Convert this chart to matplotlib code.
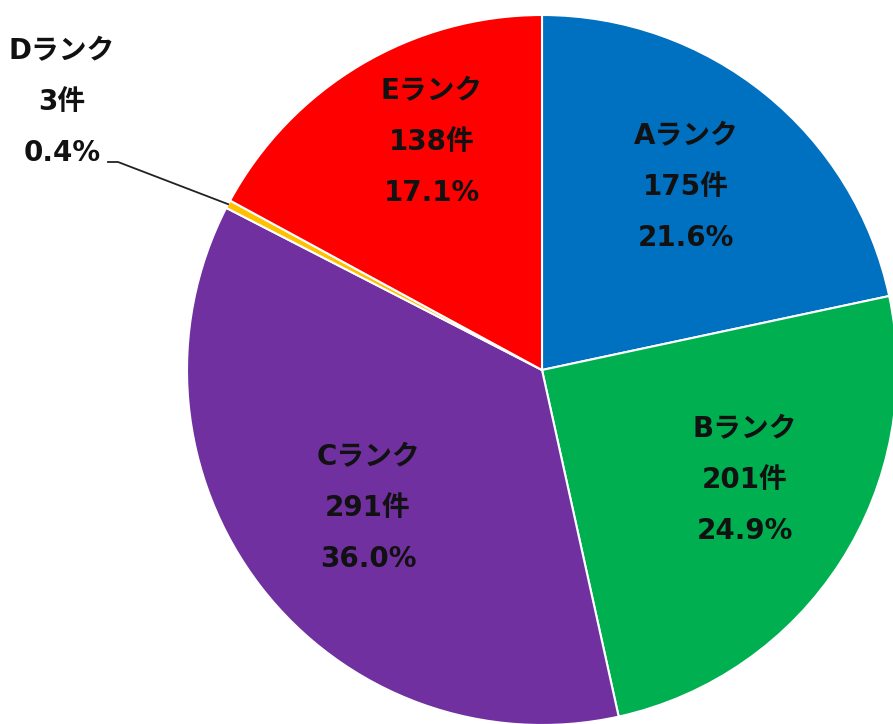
import matplotlib
matplotlib.use("Agg")
import numpy as np
import matplotlib.pyplot as plt

# Verdana-like latin (DejaVu) with CJK fallback, close to Meiryo
plt.rcParams['font.family'] = ['DejaVu Sans', 'Noto Sans CJK JP']

ranks = ['A', 'B', 'C', 'D', 'E']
counts = [175, 201, 291, 3, 138]
percents = ['21.6%', '24.9%', '36.0%', '0.4%', '17.1%']
colors = ['#0070C0', '#00B050', '#7030A0', '#FFC000', '#FF0000']

# label centres in pixel coords (x, y from top), layout only
label_pos = [(686, 187), (745, 480), (368, 508), (62, 102), (432, 142)]
line_gap = 51

W, H = 893, 724
cx, cy, R = 542, 370, 355

fig = plt.figure(figsize=(W / 100, H / 100), dpi=100)
ax = fig.add_axes([0, 0, 1, 1])
wedges, _ = ax.pie(counts, colors=colors, startangle=90, counterclock=False,
                   center=(cx, H - cy), radius=R,
                   wedgeprops=dict(edgecolor='white', linewidth=1.5))
ax.set_xlim(0, W)
ax.set_ylim(0, H)
ax.set_aspect('equal')
ax.axis('off')

for i, (rank, n, pct) in enumerate(zip(ranks, counts, percents)):
    x, y = label_pos[i]
    lines = [f'{rank}ランク', f'{n}件', pct]
    for j, s in enumerate(lines):
        ax.text(x, H - (y + (j - 1) * line_gap), s, ha='center', va='center',
                fontsize=20, fontweight='bold', color='#111111')

# leader line for the tiny D slice
w = wedges[3]
mid = np.deg2rad((w.theta1 + w.theta2) / 2)
ex = cx + R * np.cos(mid)
ey = (H - cy) + R * np.sin(mid)
ax.plot([108, 118, ex], [H - 162, H - 162, ey], color='#222222', lw=1.3)

fig.savefig('out.png', dpi=100)
